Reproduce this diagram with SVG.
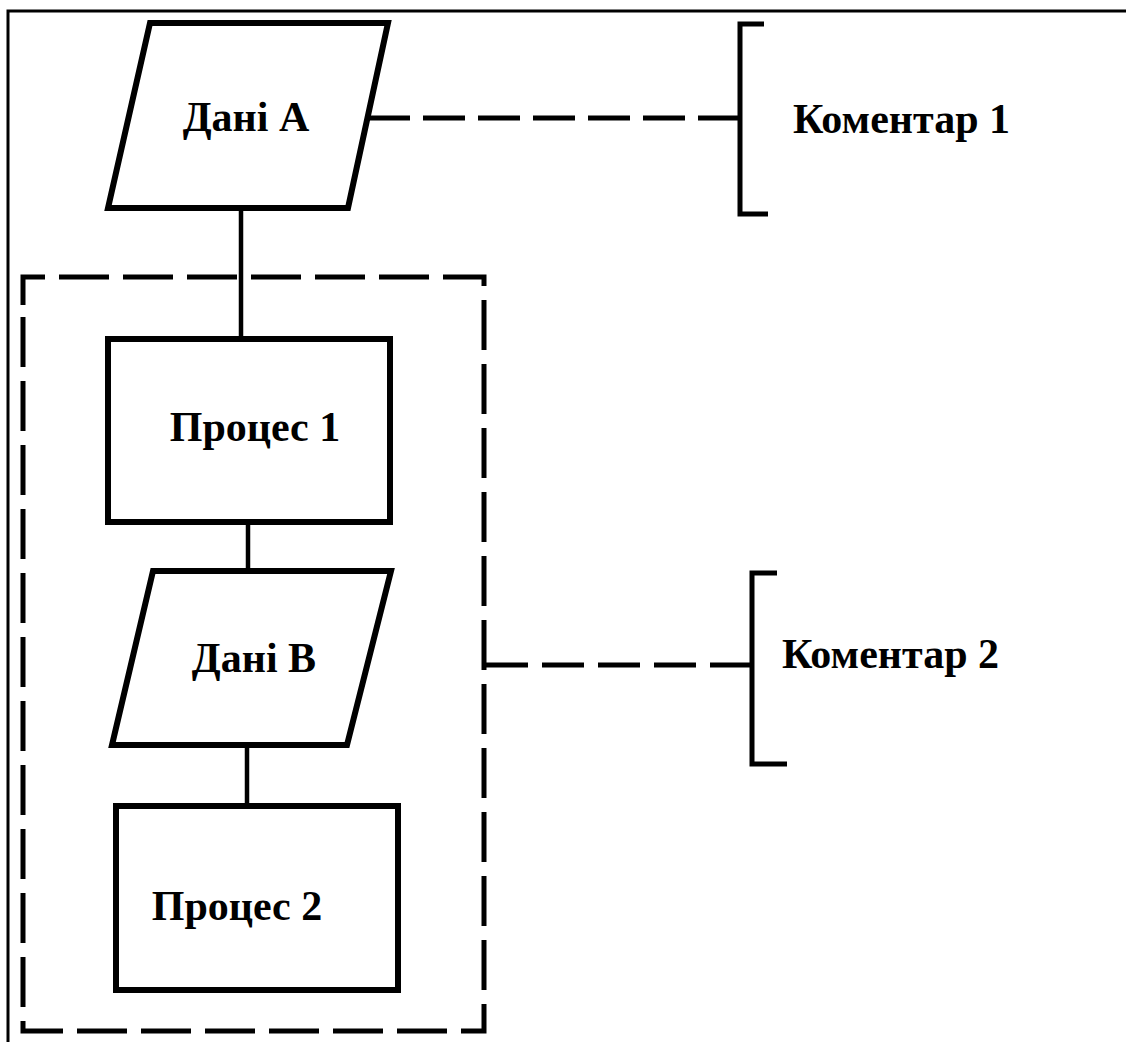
<svg xmlns="http://www.w3.org/2000/svg" width="1126" height="1042" viewBox="0 0 1126 1042">
<style>
.shape{fill:#fff;stroke:#000;stroke-width:6;stroke-linejoin:miter}
.conn{fill:none;stroke:#000;stroke-width:4.5}
.dash{fill:none;stroke:#000;stroke-width:5;stroke-dasharray:50 14}
.br{fill:none;stroke:#000;stroke-width:5}
.lbl{font-family:"Liberation Serif","Times New Roman",serif;font-weight:bold;font-size:42px;fill:#000}
</style>
<rect width="1126" height="1042" fill="#fff"/>
<path d="M8,1042 V11 H1126" fill="none" stroke="#000" stroke-width="3"/>
<g id="group-box"><path class="dash" d="M23,305 V277 H484 V1031 H23 V305"/></g>
<g id="connectors">
<line class="conn" x1="241" y1="208" x2="241" y2="338"/>
<line class="conn" x1="248" y1="522" x2="248" y2="570"/>
<line class="conn" x1="247" y1="745" x2="247" y2="805"/>
<path class="dash" d="M368,118 H740" style="stroke-dasharray:42 13"/>
<path class="dash" d="M486,665 H752" style="stroke-dasharray:42 14"/>
</g>
<g id="data-a"><polygon class="shape" points="150,23 388,23 348,208 108,208"/><text class="lbl" x="246" y="131" text-anchor="middle">Дані А</text></g>
<g id="process-1"><rect class="shape" x="108" y="339" width="282" height="183"/><text class="lbl" x="255" y="441" text-anchor="middle">Процес 1</text></g>
<g id="data-b"><polygon class="shape" points="153,571 391,571 347,745 112,745"/><text class="lbl" x="254" y="672" text-anchor="middle">Дані В</text></g>
<g id="process-2"><rect class="shape" x="116" y="806" width="282" height="184"/><text class="lbl" x="237" y="920" text-anchor="middle">Процес 2</text></g>
<g id="comment-1"><path class="br" d="M764,24 H740 V214 H768"/><text class="lbl" x="793" y="133">Коментар 1</text></g>
<g id="comment-2"><path class="br" d="M777,573 H752 V764 H787"/><text class="lbl" x="782" y="668">Коментар 2</text></g>
</svg>
